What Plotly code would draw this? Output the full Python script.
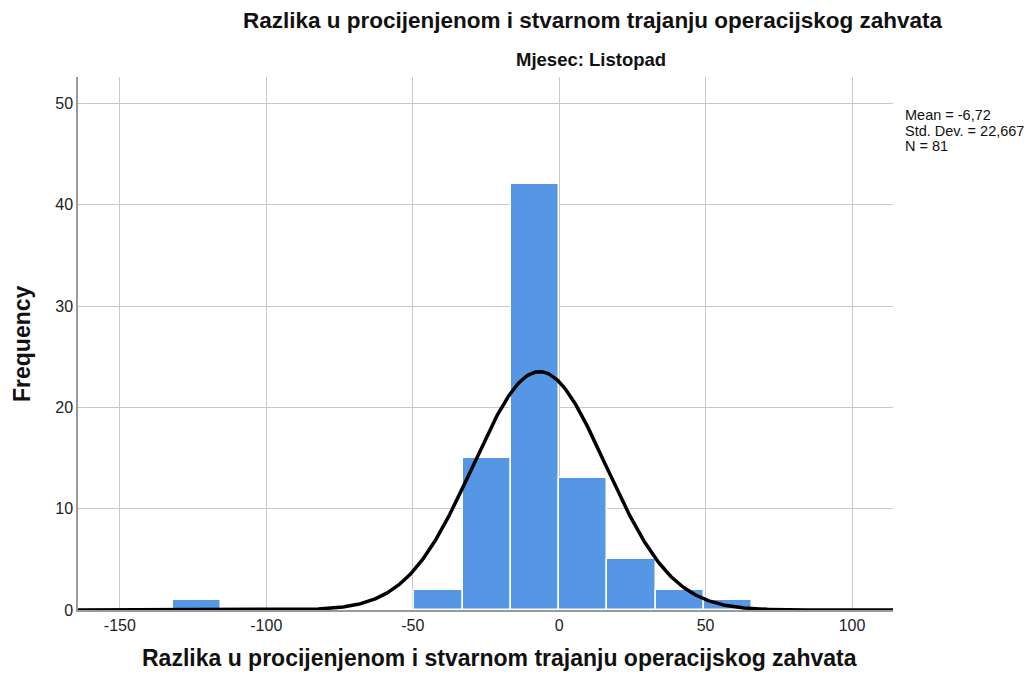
import numpy as np
import plotly.graph_objects as go

# Data
bin_edges = [-132, -115.5, -99, -82.5, -66, -49.5, -33, -16.5, 0, 16.5, 33, 49.5, 66]
counts = [1, 0, 0, 0, 0, 2, 15, 42, 13, 5, 2, 1]
mean_val = -6.72
sd_val = 22.667
n_val = 81
x_ticks = [-150, -100, -50, 0, 50, 100]
y_ticks = [0, 10, 20, 30, 40, 50]
stats_lines = ["Mean = -6,72", "Std. Dev. = 22,667", "N = 81"]

centers = [(bin_edges[i] + bin_edges[i + 1]) / 2 for i in range(len(counts))]
widths = [bin_edges[i + 1] - bin_edges[i] for i in range(len(counts))]
bw = widths[0]

xs = np.linspace(-165, 115, 600)
ys = n_val * bw / (sd_val * np.sqrt(2 * np.pi)) * np.exp(-0.5 * ((xs - mean_val) / sd_val) ** 2)

OFF = 8  # page body margin
W, H = 1034 - 2 * OFF, 681 - 2 * OFF
PL, PR, PT, PB = 78, 893, 77, 610  # plot area in page pixels
L = PL - OFF
T = PT - OFF
R = W - (PR - OFF)
B = H - (PB - OFF)
PW = PR - PL
PH = PB - PT

fig = go.Figure()
fig.add_trace(go.Bar(x=centers, y=counts, width=widths,
                     marker=dict(color="#5597E4", line=dict(color="white", width=1.5)),
                     showlegend=False, hoverinfo="skip"))
fig.add_trace(go.Scatter(x=xs, y=ys, mode="lines",
                         line=dict(color="black", width=3.5), showlegend=False, hoverinfo="skip"))

font = "Arial, Liberation Sans, sans-serif"
fig.update_layout(
    width=W, height=H,
    margin=dict(l=L, r=R, t=T, b=B, pad=0),
    paper_bgcolor="white", plot_bgcolor="white",
    font=dict(family=font, color="#222"),
    bargap=0,
    xaxis=dict(range=[-164.3, 114], tickvals=x_ticks, ticktext=[str(v) for v in x_ticks],
               showgrid=True, gridcolor="#c8c8c8", gridwidth=1.2, zeroline=False,
               showline=True, linecolor="#9a9a9a", linewidth=1.5,
               ticks="", tickfont=dict(size=16, color="#222"), ticklen=0),
    yaxis=dict(range=[0, 52.6], tickvals=y_ticks, ticktext=[str(v) for v in y_ticks],
               showgrid=True, gridcolor="#c8c8c8", gridwidth=1.2, zeroline=False,
               showline=True, linecolor="#9a9a9a", linewidth=1.5,
               ticks="", tickfont=dict(size=16, color="#222")),
)

def px_x(p):
    return (p - PL) / PW

def px_y(p):
    return (PB - p) / PH

annots = [
    dict(text="<b>Razlika u procijenjenom i stvarnom trajanju operacijskog zahvata</b>",
         x=px_x(592), y=px_y(21), font=dict(size=22.5, color="#111")),
    dict(text="<b>Mjesec: Listopad</b>", x=px_x(591), y=px_y(60), font=dict(size=18.5, color="#111")),
    dict(text="<b>Razlika u procijenjenom i stvarnom trajanju operacijskog zahvata</b>",
         x=px_x(499), y=px_y(672), yanchor="bottom", borderpad=0,
         font=dict(size=23, color="#111")),
    dict(text="<b>Frequency</b>", x=px_x(22), y=px_y(343), textangle=-90,
         font=dict(size=23, color="#111")),
]
for i, line in enumerate(stats_lines):
    annots.append(dict(text=line, x=px_x(903), y=px_y(115 + 15.5 * i), xanchor="left",
                       font=dict(size=14.5, color="#111")))
for a in annots:
    a.setdefault("xanchor", "center")
    a.setdefault("yanchor", "middle")
    fig.add_annotation(xref="paper", yref="paper", showarrow=False, **a)

fig.write_html("out.html")
